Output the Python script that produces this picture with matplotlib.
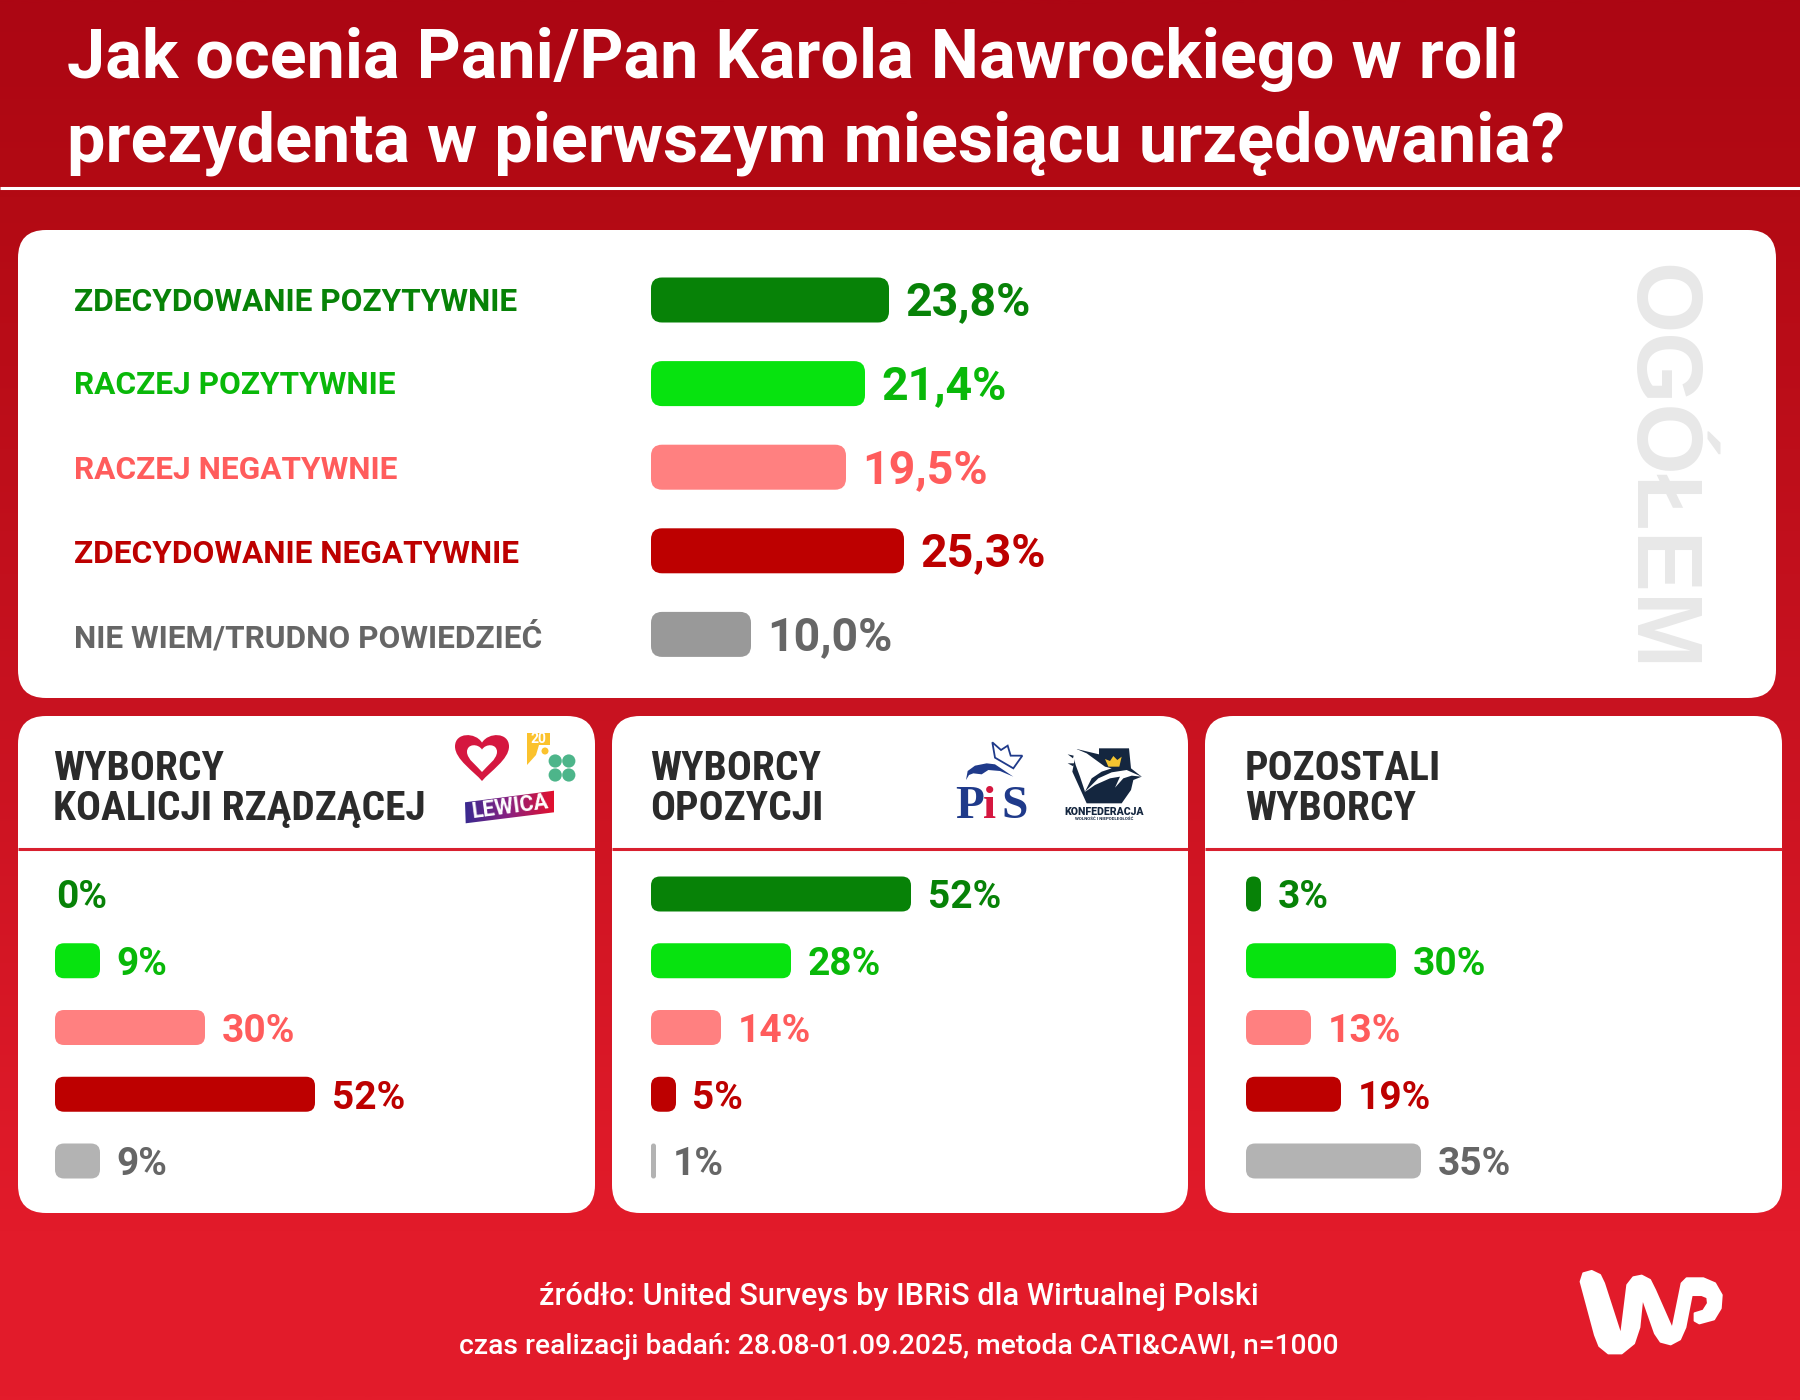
import matplotlib
matplotlib.use("Agg")
import matplotlib.pyplot as plt
import numpy as np
from matplotlib.colors import LinearSegmentedColormap
from matplotlib.patches import Circle, FancyBboxPatch, PathPatch, Polygon
from matplotlib.path import Path

W, H = 1800, 1400
FONT = "Roboto"
NARROW = ["Roboto Condensed", "Liberation Sans", "DejaVu Sans"]

title_lines = ["Jak ocenia Pani/Pan Karola Nawrockiego w roli",
               "prezydenta w pierwszym miesiącu urzędowania?"]
categories = ["ZDECYDOWANIE POZYTYWNIE", "RACZEJ POZYTYWNIE", "RACZEJ NEGATYWNIE",
              "ZDECYDOWANIE NEGATYWNIE", "NIE WIEM/TRUDNO POWIEDZIEĆ"]
values_total = [23.8, 21.4, 19.5, 25.3, 10.0]
values_coalition = [0, 9, 30, 52, 9]
values_opposition = [52, 28, 14, 5, 1]
values_others = [3, 30, 13, 19, 35]
heading_coalition = ["WYBORCY", "KOALICJI RZĄDZĄCEJ"]
heading_opposition = ["WYBORCY", "OPOZYCJI"]
heading_others = ["POZOSTALI", "WYBORCY"]
footer_lines = ["źródło: United Surveys by IBRiS dla Wirtualnej Polski",
                "czas realizacji badań: 28.08-01.09.2025, metoda CATI&CAWI, n=1000"]

bar_colors = ["#078207", "#07E30F", "#FF8080", "#BD0000", "#999999"]
bar_colors_small = ["#078207", "#07E30F", "#FF8080", "#BD0000", "#B3B3B3"]
text_colors = ["#078207", "#09B809", "#FF5C5C", "#BD0000", "#666666"]


def px_axes(fig, x, y, w, h):
    # axes placed in pixels from the top left corner
    ax = fig.add_axes([x / W, 1 - (y + h) / H, w / W, h / H])
    ax.axis("off")
    return ax


def draw_bars(fig, values, x0, first_row, row_step, bar_h, px_per_unit, radius, font_size, text_drop, labels_fmt):
    n = len(values)
    xmax = 100
    ax = px_axes(fig, x0, first_row - row_step / 2, xmax * px_per_unit, n * row_step)
    ax.set_xlim(0, xmax)
    ax.set_ylim(n - 0.5, -0.5)
    ax.patch.set_alpha(0)
    colors = bar_colors if font_size > 30 else bar_colors_small
    for i, v in enumerate(values):
        if v > 0:
            h = bar_h / row_step
            r = min(radius / px_per_unit, v / 2)
            ax.add_patch(FancyBboxPatch((0, i - h / 2), v, h,
                                        boxstyle=f"round,pad=0,rounding_size={r}",
                                        mutation_aspect=px_per_unit / row_step,
                                        fc=colors[i], ec="none", clip_on=False))
        ax.annotate(labels_fmt(v), (v, i), xytext=(16.5 if v > 0 else 1, -text_drop),
                    textcoords="offset pixels", family=FONT, weight="bold",
                    fontsize=font_size, color=text_colors[i], va="baseline", ha="left",
                    annotation_clip=False)


def draw_wp_logo(ax):
    ox, oy = 1540, 1240
    pts = [(122, 125), (130, 100), (155, 93), (180, 105), (192, 130), (243, 288), (262, 135), (280, 112),
           (305, 107), (330, 120), (345, 150), (397, 268), (425, 130), (440, 115), (490, 115), (525, 130),
           (545, 165), (542, 205), (522, 238), (478, 250), (464, 242), (464, 220), (490, 212), (504, 190),
           (502, 172), (485, 165), (455, 165), (436, 262), (420, 298), (392, 313), (362, 305), (345, 280),
           (307, 172), (298, 262), (282, 310), (245, 340), (205, 340), (178, 318), (165, 285)]
    xy = [(ox + x / 3, oy + y / 3) for x, y in pts]
    ax.add_patch(Polygon(xy, closed=True, fc="white", ec="white", lw=1.5, joinstyle="round"))


def heart(ax, cx, top, w, h, color):
    l, r, b = cx - w / 2, cx + w / 2, top + h
    verts = [(cx, top + h * 0.2), (cx - w * 0.12, top - h * 0.02), (l, top - h * 0.02), (l, top + h * 0.28),
             (l, top + h * 0.55), (cx - w * 0.15, top + h * 0.8), (cx, b),
             (cx + w * 0.15, top + h * 0.8), (r, top + h * 0.55), (r, top + h * 0.28),
             (r, top - h * 0.02), (cx + w * 0.12, top - h * 0.02), (cx, top + h * 0.2)]
    codes = [Path.MOVETO] + [Path.CURVE4] * 12
    ax.add_patch(PathPatch(Path(verts, codes), fc=color, ec="none"))


def crop_pts(pts, ox, oy):
    return [(ox + x / 3, oy + y / 3) for x, y in pts]


def draw_party_logos(ax):
    # coalition
    heart(ax, 482, 733, 54, 48, "#D5173F")
    heart(ax, 482, 744, 30, 28, "white")
    ax.add_patch(Polygon([(527, 733), (550, 733), (550, 745), (527, 745)], fc="#FBC22D", ec="none"))
    ax.add_patch(Polygon([(527, 745), (539, 745), (536, 755), (527, 765)], fc="#FBC22D", ec="none"))
    ax.add_patch(Circle((545, 751), 3.5, fc="#FBC22D", ec="none"))
    ax.text(538.5, 739, "20", color="white", family=FONT, weight="bold", fontsize=10, ha="center", va="center")
    for dx, dy in [(-6.8, -7), (6.8, -7), (-6.8, 7), (6.8, 7)]:
        ax.add_patch(Circle((562 + dx, 768 + dy), 6.6, fc="#4DB58A", ec="none"))
    grad = LinearSegmentedColormap.from_list("lewica", ["#3A2A90", "#8A2080", "#E2102E"])
    im = ax.imshow(np.linspace(0, 1, 64)[None, :], cmap=grad, extent=(465, 554, 824, 790), aspect="auto", zorder=2)
    banner = Polygon([(465, 802.3), (554, 790.7), (554, 812.3), (465.7, 823.3)], fc="none", ec="none", transform=ax.transData)
    ax.add_patch(banner)
    im.set_clip_path(banner)
    ax.text(510, 807, "LEWICA", color="white", family=FONT, weight="bold", fontsize=15.5, rotation=7.5,
            ha="center", va="center", zorder=3)

    # PiS, crop origin 945,735
    ox, oy = 945, 735
    navy = "#1F3A8A"
    ax.text(955, 818, "P", color=navy, family="Liberation Serif", weight="bold", fontsize=34, va="baseline")
    ax.text(983, 818, "i", color="#D5173F", family="Liberation Serif", weight="bold", fontsize=34, va="baseline")
    ax.text(1001, 818, "S", color=navy, family="Liberation Serif", weight="bold", fontsize=34, va="baseline")
    ax.add_patch(Polygon(crop_pts([(142, 22), (168, 45), (188, 32), (197, 62), (232, 62), (205, 100), (150, 68)], ox, oy),
                         fc="none", ec=navy, lw=1.3))
    ax.add_patch(Polygon(crop_pts([(63, 135), (68, 108), (90, 92), (125, 85), (150, 88), (205, 125), (165, 108),
                                   (130, 105), (110, 118), (85, 115), (72, 120)], ox, oy), fc=navy, ec="none"))

    # Konfederacja, same crop
    dark = "#14263F"
    ax.add_patch(Polygon(crop_pts([(395, 42), (462, 58), (462, 40), (552, 40), (558, 100), (590, 125), (565, 135),
                                   (558, 165), (530, 205), (425, 205), (382, 110)], ox, oy), fc=dark, ec="none"))
    ax.add_patch(Polygon(crop_pts([(378, 35), (425, 55), (480, 95), (500, 100), (470, 110), (440, 130), (420, 170),
                                   (405, 125), (392, 90)], ox, oy), fc="white", ec="none"))
    ax.add_patch(Polygon(crop_pts([(418, 172), (460, 130), (500, 112), (545, 105), (590, 125), (560, 122), (535, 130),
                                   (510, 158), (525, 125), (495, 130), (450, 150)], ox, oy), fc="white", ec="none"))
    ax.add_patch(Polygon(crop_pts([(480, 72), (490, 95), (523, 95), (530, 65), (517, 75), (505, 63), (495, 78)], ox, oy),
                         fc="#F4C430", ec="none"))
    ax.add_patch(Polygon(crop_pts([(368, 58), (386, 62), (384, 70)], ox, oy), fc=dark, ec="none"))
    ax.add_patch(Polygon(crop_pts([(368, 85), (388, 85), (385, 94)], ox, oy), fc=dark, ec="none"))
    ax.text(1104.5, 812, "KONFEDERACJA", color=dark, family=FONT, weight="black", fontsize=7.6, ha="center", va="center")
    ax.text(1104.5, 819, "WOLNOŚĆ I NIEPODLEGŁOŚĆ", color=dark, family=FONT, weight="bold", fontsize=3.2,
            ha="center", va="center")


def main():
    fig = plt.figure(figsize=(W / 100, H / 100), dpi=100)

    # page background with the vertical red gradient
    bg = px_axes(fig, 0, 0, W, H)
    cmap = LinearSegmentedColormap.from_list("page", [(0, "#AC0613"), (0.14, "#B30A14"), (0.5, "#C81220"),
                                                      (0.88, "#E21B2A"), (1, "#E31C2B")])
    bg.imshow(np.linspace(0, 1, 512)[:, None], cmap=cmap, extent=(0, W, H, 0), aspect="auto")
    bg.set_xlim(0, W)
    bg.set_ylim(H, 0)

    for i, line in enumerate(title_lines):
        bg.text(67, 78 + i * 84, line, color="white", family=FONT, weight="bold", fontsize=49.25, va="baseline")
    bg.plot([0, W], [188, 188], color="white", lw=2.2, solid_capstyle="butt")

    # white cards
    cards = [(18, 230, 1758, 468), (18, 716, 577, 497), (612, 716, 576, 497), (1205, 716, 577, 497)]
    for x, y, w, h in cards:
        bg.add_patch(FancyBboxPatch((x, y), w, h, boxstyle="round,pad=0,rounding_size=28", fc="white", ec="none"))
    bg.plot([18, 595], [849, 849], color="#D8202F", lw=2.2, solid_capstyle="butt")
    bg.plot([612, 1188], [849, 849], color="#D8202F", lw=2.2, solid_capstyle="butt")
    bg.plot([1205, 1782], [849, 849], color="#D8202F", lw=2.2, solid_capstyle="butt")

    rows_top = [300, 383.5, 468, 552, 636]
    for i, name in enumerate(categories):
        bg.text(74, rows_top[i] + 11, name, color=text_colors[i], family=FONT, weight="bold", fontsize=22.75, va="baseline")
    bg.text(1657, 468, "OGÓŁEM", color="#E8E8E8", family="Liberation Sans", weight="bold", fontsize=66, rotation=-90,
            ha="center", va="center")

    for (x, lines) in [(53, heading_coalition), (650, heading_opposition), (1245, heading_others)]:
        for i, line in enumerate(lines):
            bg.text(x, 779.5 + i * 40, line, color="#2B2B2B", family=NARROW, weight="bold", fontsize=29.8, va="baseline")

    draw_party_logos(bg)
    bg.set_xlim(0, W)
    bg.set_ylim(H, 0)

    bg.text(899, 1305, footer_lines[0], color="white", family=FONT, weight="medium", fontsize=22.15, ha="center", va="baseline")
    bg.text(899, 1354, footer_lines[1], color="white", family=FONT, weight="medium", fontsize=20.3, ha="center", va="baseline")
    draw_wp_logo(bg)

    draw_bars(fig, values_total, 651, 300, 83.6, 45, 10.0, 11, 33.5, 15.5,
              lambda v: f"{v:.1f}".replace(".", ",") + "%")
    for x0, vals in [(55, values_coalition), (651, values_opposition), (1246, values_others)]:
        draw_bars(fig, vals, x0, 894, 66.75, 35, 5.0, 9, 28, 14.4, lambda v: f"{v}%")

    fig.savefig("out.png", dpi=100)


if __name__ == "__main__":
    main()
